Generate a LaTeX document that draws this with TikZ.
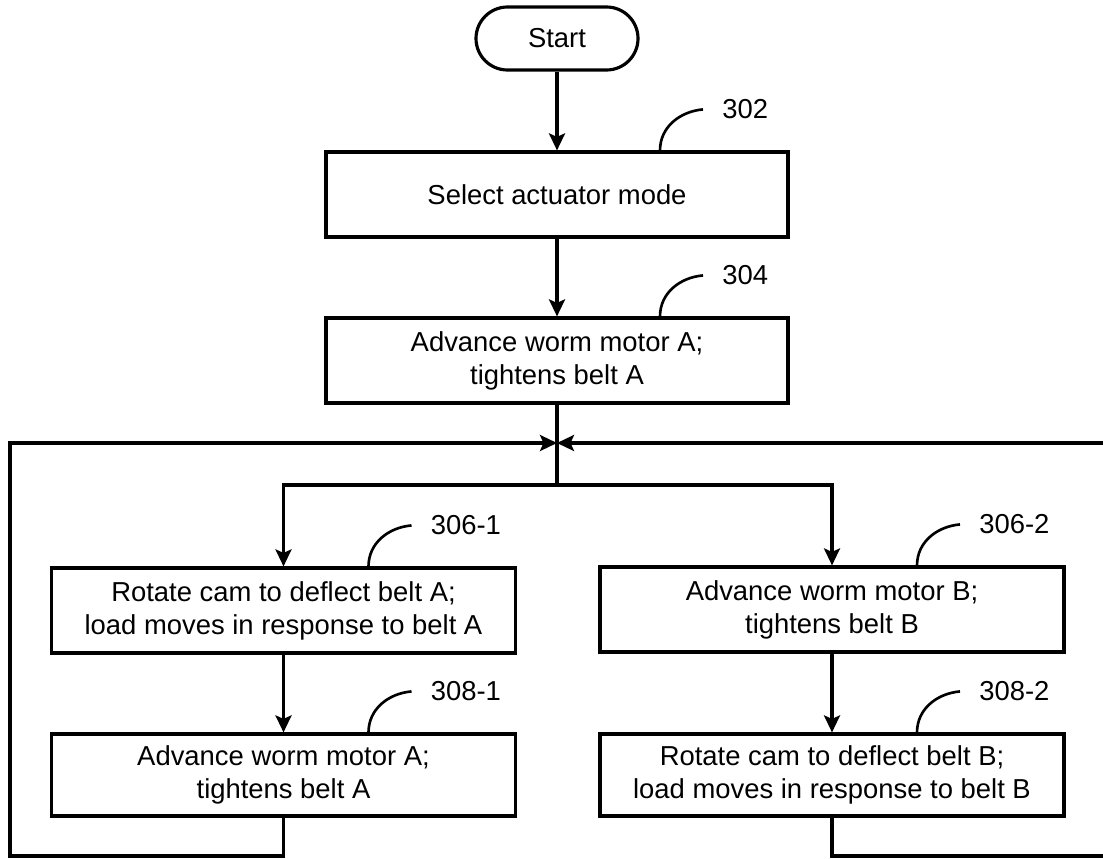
\documentclass[tikz,border=0pt]{standalone}
\usepackage{fontspec}
\setmainfont{Liberation Sans}
\usepackage{tikz}
\usetikzlibrary{arrows.meta}
\usetikzlibrary{calc}

\tikzset{
	stepbox/.style={draw,line width=1.8pt,minimum width=9.28cm,minimum height=1.7cm,align=center,inner sep=0pt},
	flow/.style={line width=1.8pt,-{Stealth[length=0.34cm,width=0.32cm,inset=0.07cm]}},
	refline/.style={line width=1.5pt},
	reflabel/.style={anchor=west,inner sep=0pt}
}

\begin{document}
\begin{tikzpicture}[font=\fontsize{15.6}{18.8}\selectfont]
	\useasboundingbox (0,0) rectangle (22.06,17.16);
	\clip (0,0) rectangle (22.06,17.16);
	\node[draw,line width=1.8pt,rounded corners=0.63cm,minimum width=3.24cm,minimum height=1.26cm] (start) at (11.14,16.39) {Start};
	\node[stepbox,minimum width=9.24cm] (select) at (11.14,13.27) {Select actuator mode};
	\node[stepbox,minimum width=9.24cm] (advA) at (11.14,9.95) {Advance worm motor A;\\tightens belt A};
	\node[stepbox] (rotA) at (5.67,4.95) {Rotate cam to deflect belt A;\\load moves in response to belt A};
	\node[stepbox] (advB) at (16.64,4.97) {Advance worm motor B;\\tightens belt B};
	\node[stepbox,minimum height=1.64cm] (advAagain) at (5.67,1.66) {Advance worm motor A;\\tightens belt A};
	\node[stepbox,minimum height=1.64cm] (rotB) at (16.64,1.66) {Rotate cam to deflect belt B;\\load moves in response to belt B};
	\coordinate (join) at (11.14,8.30);
	\coordinate (split) at (11.14,7.46);
	\coordinate (loopA) at (0.2,0.04);
	\coordinate (loopB) at (22.3,0.04);
	\draw[flow] (start) -- (select);
	\draw[flow] (select) -- (advA);
	\draw[line width=1.8pt] (advA) -- (split);
	\draw[flow] (split) -| (rotA);
	\draw[flow] (split) -| (advB);
	\draw[flow] (rotA) -- (advAagain);
	\draw[flow] (advB) -- (rotB);
	\draw[flow] (advAagain.south) |- (loopA) |- (join);
	\draw[flow] (rotB.south) |- (loopB) |- (join);
	\foreach \blk/\dx/\num in {select/2.06/302,advA/2.06/304,rotA/1.7/306-1,advB/1.7/306-2,advAagain/1.7/308-1,rotB/1.7/308-2}{
		\coordinate (foot) at ($(\blk.north)+(\dx,0)$);
		\coordinate (tip) at ($(foot)+(0.86,0.82)$);
		\draw[refline] (foot) to[out=90,in=185] (tip);
		\node[reflabel] (ref\num) at ($(tip)+(0.38,0)$) {\num};
	}
\end{tikzpicture}
\end{document}
